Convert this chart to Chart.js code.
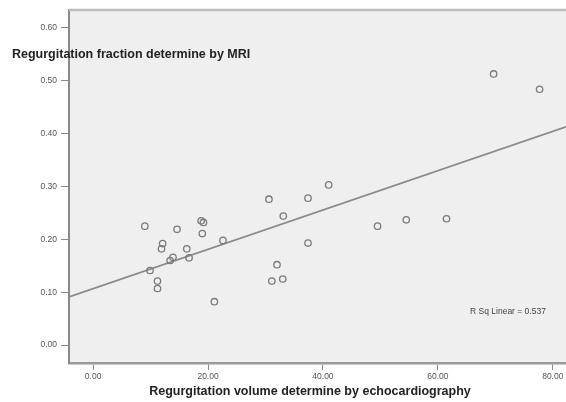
<!DOCTYPE html>
<html>
<head>
<meta charset="utf-8">
<script src="https://cdn.jsdelivr.net/npm/chart.js@4/dist/chart.umd.min.js"></script>
<style>
html,body{margin:0;padding:0;background:#ffffff;}
canvas{display:block;}
</style>
</head>
<body>
<canvas id="c" width="566" height="402"></canvas>
<script>
// Data
const echoVolume = [9.0, 12.1, 11.9, 14.6, 9.9, 11.2, 11.2, 13.4, 13.9, 16.3, 16.7,
  18.8, 19.2, 19.0, 22.6, 21.1, 30.6, 31.1, 32.0, 33.0, 33.1, 37.4, 37.4, 41.0,
  49.5, 54.5, 61.5, 69.7, 77.7];
const mriFraction = [0.225, 0.192, 0.182, 0.219, 0.141, 0.121, 0.107, 0.160, 0.166, 0.182, 0.165,
  0.235, 0.232, 0.211, 0.198, 0.082, 0.276, 0.121, 0.152, 0.125, 0.244, 0.278, 0.193, 0.303,
  0.225, 0.237, 0.239, 0.513, 0.484];
const fitLineX = [-4.2, 82.3];
const fitLineY = [0.091, 0.413];
const xTickValues = [0, 20, 40, 60, 80];
const yTickValues = [0, 0.1, 0.2, 0.3, 0.4, 0.5, 0.6];
const xTitle = 'Regurgitation volume determine by echocardiography';
const yTitle = 'Regurgitation fraction determine by MRI';
const rSqText = 'R Sq Linear = 0.537';
const rSqPos = {x: 65.6, y: 0.064};

const scatterPoints = echoVolume.map((v, i) => ({x: v, y: mriFraction[i]}));
const linePoints = fitLineX.map((v, i) => ({x: v, y: fitLineY[i]}));

const FONT = '"Liberation Sans", Arial, sans-serif';

const bgPlugin = {
  id: 'bgPlugin',
  beforeDraw(chart) {
    const {ctx, chartArea: a} = chart;
    ctx.save();
    ctx.fillStyle = '#efefef';
    ctx.fillRect(a.left, a.top, a.right - a.left, a.bottom - a.top);
    ctx.restore();
  },
  afterDraw(chart) {
    const {ctx, chartArea: a, scales} = chart;
    ctx.save();
    // top border
    ctx.strokeStyle = '#bcbcbc';
    ctx.lineWidth = 2.5;
    ctx.beginPath();
    ctx.moveTo(a.left, a.top);
    ctx.lineTo(a.right, a.top);
    ctx.stroke();
    // axis titles
    ctx.fillStyle = '#222';
    ctx.font = 'bold 12.5px ' + FONT;
    ctx.textBaseline = 'middle';
    ctx.textAlign = 'left';
    ctx.fillText(yTitle, 12, 55);
    ctx.textAlign = 'center';
    ctx.fillText(xTitle, 310, 392);
    // R Sq annotation
    ctx.textAlign = 'left';
    ctx.font = '8.5px ' + FONT;
    ctx.fillStyle = '#444';
    ctx.fillText(rSqText, scales.x.getPixelForValue(rSqPos.x), scales.y.getPixelForValue(rSqPos.y));
    ctx.restore();
  }
};

new Chart(document.getElementById('c'), {
  type: 'scatter',
  data: {
    datasets: [
      {
        type: 'line',
        data: linePoints,
        borderColor: '#8a8a8a',
        borderWidth: 1.6,
        pointRadius: 0,
        fill: false,
        order: 2
      },
      {
        data: scatterPoints,
        pointStyle: 'circle',
        pointRadius: 3.2,
        pointBackgroundColor: 'rgba(0,0,0,0)',
        pointBorderColor: '#7a7a7a',
        pointBorderWidth: 1.3,
        order: 1
      }
    ]
  },
  options: {
    responsive: false,
    devicePixelRatio: 1,
    animation: false,
    layout: {autoPadding: false, padding: {top: 10, right: 0, left: 0, bottom: 0}},
    plugins: {legend: {display: false}, tooltip: {enabled: false}},
    scales: {
      x: {
        type: 'linear',
        min: -4.2,
        max: 82.3,
        afterBuildTicks(s) { s.ticks = xTickValues.map(v => ({value: v})); },
        afterFit(s) { s.height = 39; s.paddingRight = 0; s.paddingLeft = 0; },
        ticks: {
          callback: v => v.toFixed(2),
          font: {family: FONT, size: 8.5},
          color: '#555',
          padding: 2,
          maxRotation: 0
        },
        grid: {drawOnChartArea: false, drawTicks: true, tickLength: 7, color: '#8a8a8a', lineWidth: 1},
        border: {display: true, color: '#9a9a9a', width: 2.5},
        title: {display: false}
      },
      y: {
        type: 'linear',
        min: -0.034,
        max: 0.634,
        afterBuildTicks(s) { s.ticks = yTickValues.map(v => ({value: v})); },
        afterFit(s) { s.width = 69; s.paddingTop = 0; s.paddingBottom = 0; },
        ticks: {
          callback: v => v.toFixed(2),
          font: {family: FONT, size: 8.5},
          color: '#555',
          padding: 4
        },
        grid: {drawOnChartArea: false, drawTicks: true, tickLength: 8, color: '#8a8a8a', lineWidth: 1},
        border: {display: true, color: '#8a8a8a', width: 2}
      }
    }
  },
  plugins: [bgPlugin]
});
</script>
</body>
</html>
